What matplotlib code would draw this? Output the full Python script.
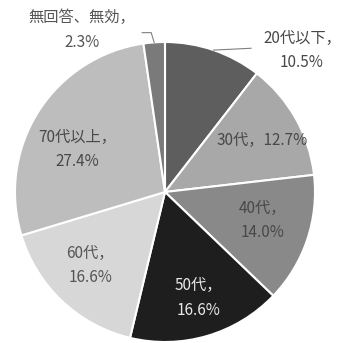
import matplotlib.pyplot as plt
import numpy as np

plt.rcParams['font.family'] = ['Noto Sans CJK JP', 'DejaVu Sans']

# 年代別の構成比（%）
labels = ['20代以下', '30代', '40代', '50代', '60代', '70代以上', '無回答、無効']
values = [10.5, 12.7, 14.0, 16.6, 16.6, 27.4, 2.3]
colors = ['#5e5e5e', '#a8a8a8', '#898989', '#1e1e1e', '#d7d7d7', '#bdbdbd', '#7a7a7a']
text_colors = ['#484848', '#484848', '#484848', '#e8e8e8', '#555555', '#484848', '#555555']

fig = plt.figure(figsize=(3.49, 3.43), dpi=100)
ax = fig.add_axes([0, 0, 1, 1])

wedges, _ = ax.pie(values, colors=colors, startangle=90, counterclock=False,
                   radius=1.0, wedgeprops=dict(edgecolor='white', linewidth=1.5))

# 円の中心 (165, 192) px、半径 150 px になるよう範囲を合わせる
ax.set_xlim(-1.1, 1.2267)
ax.set_ylim(-1.0067, 1.28)
ax.set_aspect('auto')
ax.axis('off')

fs = 11
ls = 1.55
# 内側ラベルの位置 (半径比, 角度のずれ)
inner = {1: (0.73, -1.6), 2: (0.68, 2.5), 3: (0.74, 1.0), 4: (0.70, -2.0), 5: (0.65, 6.5)}
for i, (r, dang) in inner.items():
    w = wedges[i]
    ang = np.deg2rad((w.theta1 + w.theta2) / 2 + dang)
    if labels[i] == '30代':
        s = f'{labels[i]}，{values[i]:.1f}%'
    else:
        s = f'{labels[i]}，\n{values[i]:.1f}%'
    ax.text(r * np.cos(ang), r * np.sin(ang), s, ha='center', va='center',
            fontsize=fs, color=text_colors[i], linespacing=ls)

# 外側ラベルと引き出し線
w = wedges[0]
ang = np.deg2rad((w.theta1 + w.theta2) / 2)
px, py = np.cos(ang), np.sin(ang)
ax.plot([px, px + 0.25], [py, py + 0.012], color='#808080', lw=0.8)
ax.text(0.913, 0.943, f'{labels[0]}，\n{values[0]:.1f}%', ha='center', va='center',
        fontsize=fs, color=text_colors[0], linespacing=ls)

w = wedges[6]
ang = np.deg2rad((w.theta1 + w.theta2) / 2)
px, py = np.cos(ang), np.sin(ang)
ax.plot([px, px - 0.02, px - 0.08], [py, py + 0.065, py + 0.065], color='#808080', lw=0.8)
ax.text(-0.553, 1.08, f'{labels[6]}，\n{values[6]:.1f}%', ha='center', va='center',
        fontsize=fs, color=text_colors[6], linespacing=ls)

fig.savefig('out.png', dpi=100, facecolor='white')
